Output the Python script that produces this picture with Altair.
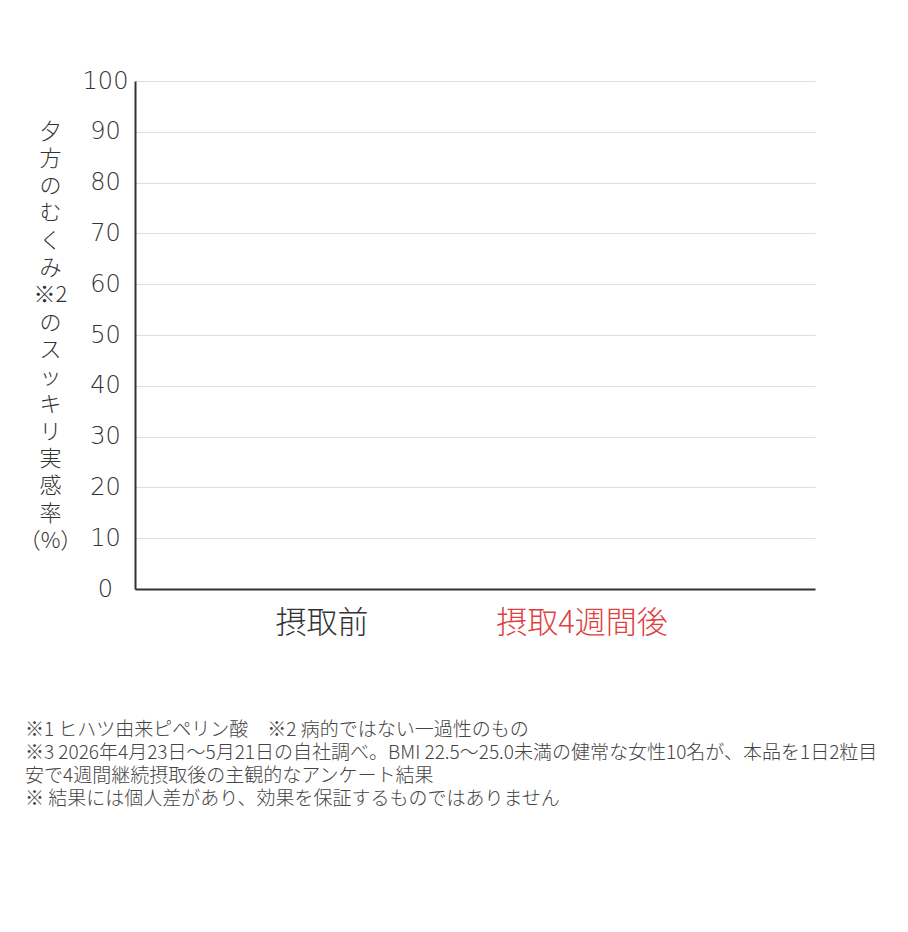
import altair as alt
import pandas as pd

categories = ["摂取前", "摂取4週間後"]
values = [0, 0]
y_ticks = [0, 10, 20, 30, 40, 50, 60, 70, 80, 90, 100]
y_title = ["夕", "方", "の", "む", "く", "み", "※2", "の", "ス", "ッ", "キ", "リ", "実", "感", "率", "（%）"]
notes = [
    "※1 ヒハツ由来ピペリン酸　※2 病的ではない一過性のもの",
    "※3 2026年4月23日〜5月21日の自社調べ。BMI 22.5〜25.0未満の健常な女性10名が、本品を1日2粒目",
    "安で4週間継続摂取後の主観的なアンケート結果",
    "※ 結果には個人差があり、効果を保証するものではありません",
]

df = pd.DataFrame({"cat": categories, "val": values})
FONT = "Noto Sans CJK JP"

chart = alt.Chart(df).mark_bar(color="#e04040").encode(
    x=alt.X("cat:N", sort=categories,
            scale=alt.Scale(paddingInner=0.5, paddingOuter=0.5577, align=0.4207),
            axis=alt.Axis(title=None, labelAngle=0, labelFontSize=31, labelFont=FONT,
                          labelFontWeight=300, ticks=False, labelPadding=19,
                          domainColor="#333333", domainWidth=2,
                          labelColor=alt.ExprRef(expr="datum.value == '摂取前' ? '#333333' : '#e04040'"))),
    y=alt.Y("val:Q", scale=alt.Scale(domain=[0, 100], nice=False),
            axis=alt.Axis(values=y_ticks, title=y_title, titleAngle=0, titleAlign="center",
                          titleBaseline="top", titleX=-85, titleY=40, titleFontSize=22,
                          titleLineHeight=27.3, titleFont=FONT, titleFontWeight=300,
                          titleColor="#333333",
                          labelFontSize=24, labelFont="DejaVu Sans", labelFontWeight=200,
                          labelColor="#333333", labelAlign="center", labelPadding=30,
                          ticks=False, domainColor="#333333", domainWidth=2,
                          gridColor="#dddddd", gridWidth=1)),
).properties(
    width=680, height=508,
    padding={"left": 127, "top": 73, "right": 85, "bottom": 300},
    autosize=alt.AutoSizeParams(type="none"),
    title=alt.TitleParams(text=notes, orient="bottom", anchor="start", frame="group",
                          dx=-110, offset=83, fontSize=19, lineHeight=23, font=FONT,
                          fontWeight=300, color="#444444", baseline="top"),
).configure_view(stroke=None).configure_axisX(grid=False)

chart.save("out.html", embed_options={"renderer": "svg", "actions": False})
